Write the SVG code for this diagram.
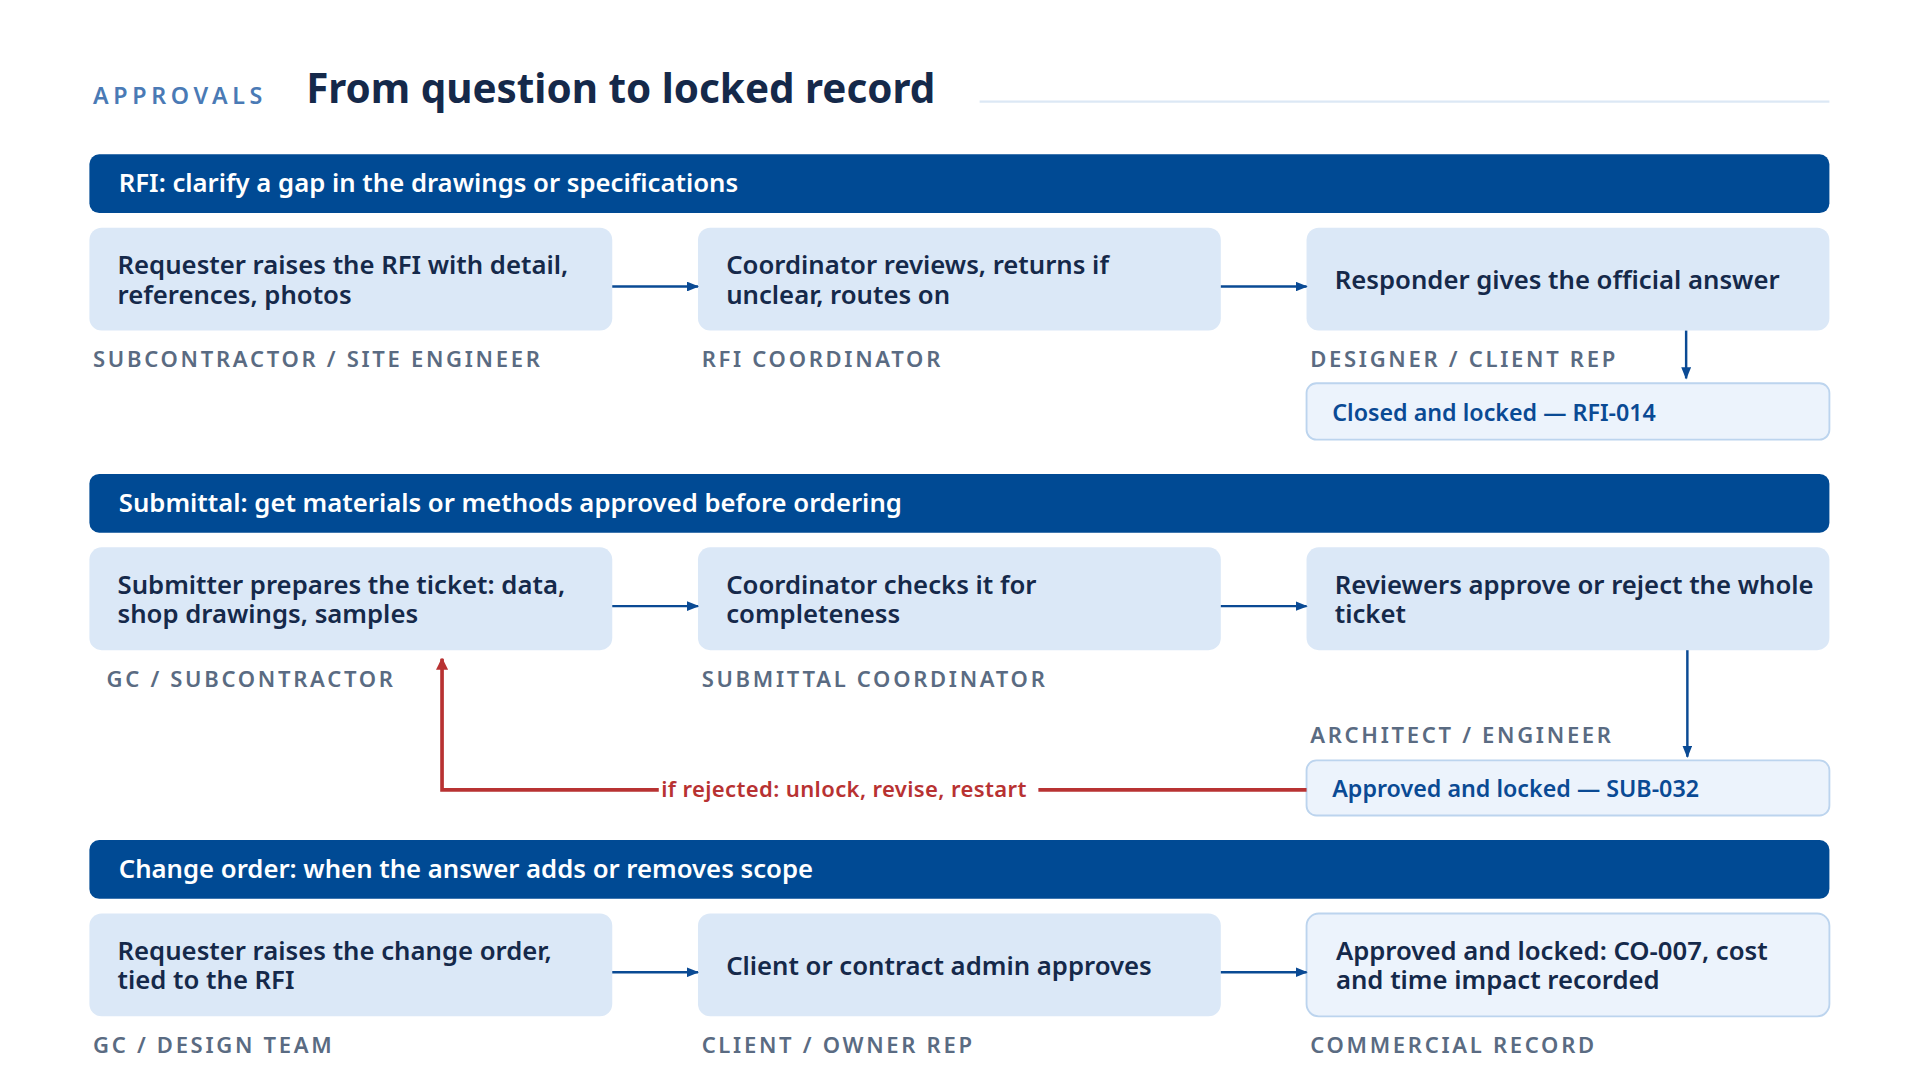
<svg xmlns="http://www.w3.org/2000/svg" width="1920" height="1080" viewBox="0 0 1920 1080">
<style>
text{font-family:"Noto Sans","Open Sans",sans-serif}
.band{fill:#004a94}
.bt{fill:#fff;font-size:21px;font-weight:600}
.box{fill:#dbe8f7}
.lock{fill:#ecf3fc;stroke:#bcd4ee;stroke-width:1.5}
.t{fill:#15294a;font-size:21px;font-weight:600}
.lt{fill:#0a4a94;font-size:19px;font-weight:600}
.role{fill:#5a6b82;font-size:18px;font-weight:600;letter-spacing:2.2px}
.c{stroke:#0a4a94;stroke-width:2;fill:none}
.r{stroke:#b83232;stroke-width:3;fill:none}
</style>
<defs>
<marker id="a" markerWidth="10" markerHeight="8" refX="9" refY="4" orient="auto" markerUnits="userSpaceOnUse"><path d="M0,0L10,4L0,8Z" fill="#0a4a94"/></marker>
<marker id="ar" markerWidth="10" markerHeight="10" refX="9" refY="5" orient="auto" markerUnits="userSpaceOnUse"><path d="M0,0L10,5L0,10Z" fill="#b83232"/></marker>
</defs>
<rect width="1920" height="1080" fill="#fff"/>
<g transform="scale(1.2245)">
<g id="header">
<text x="76" y="85" fill="#4a7ab5" font-size="19" font-weight="600" letter-spacing="3.8">APPROVALS</text>
<text x="250" y="84" fill="#15294a" font-size="33" font-weight="700">From question to locked record</text>
<line x1="800" y1="83" x2="1494" y2="83" stroke="#dce8f5" stroke-width="2"/>
</g>
<g id="band1"><rect class="band" x="73" y="126" width="1421" height="48" rx="8"/><text class="bt" x="97" y="157">RFI: clarify a gap in the drawings or specifications</text></g>
<g id="n1"><rect class="box" x="73" y="186" width="427" height="84" rx="10"/><text class="t" x="96" y="224">Requester raises the RFI with detail,</text><text class="t" x="96" y="248">references, photos</text><text class="role" x="76" y="300">SUBCONTRACTOR / SITE ENGINEER</text></g>
<g id="n2"><rect class="box" x="570" y="186" width="427" height="84" rx="10"/><text class="t" x="593" y="224">Coordinator reviews, returns if</text><text class="t" x="593" y="248">unclear, routes on</text><text class="role" x="573" y="300">RFI COORDINATOR</text></g>
<g id="n3"><rect class="box" x="1067" y="186" width="427" height="84" rx="10"/><text class="t" x="1090" y="236">Responder gives the official answer</text><text class="role" x="1070" y="300">DESIGNER / CLIENT REP</text></g>
<g id="n4"><rect class="lock" x="1067" y="313" width="427" height="46" rx="8"/><text class="lt" x="1088" y="344">Closed and locked — RFI-014</text></g>

<g id="band2"><rect class="band" x="73" y="387" width="1421" height="48" rx="8"/><text class="bt" x="97" y="418">Submittal: get materials or methods approved before ordering</text></g>
<g id="n5"><rect class="box" x="73" y="447" width="427" height="84" rx="10"/><text class="t" x="96" y="485">Submitter prepares the ticket: data,</text><text class="t" x="96" y="509">shop drawings, samples</text><text class="role" x="87" y="561">GC / SUBCONTRACTOR</text></g>
<g id="n6"><rect class="box" x="570" y="447" width="427" height="84" rx="10"/><text class="t" x="593" y="485">Coordinator checks it for</text><text class="t" x="593" y="509">completeness</text><text class="role" x="573" y="561">SUBMITTAL COORDINATOR</text></g>
<g id="n7"><rect class="box" x="1067" y="447" width="427" height="84" rx="10"/><text class="t" x="1090" y="485">Reviewers approve or reject the whole</text><text class="t" x="1090" y="509">ticket</text></g>
<g id="n8"><text class="role" x="1070" y="607">ARCHITECT / ENGINEER</text><rect class="lock" x="1067" y="621" width="427" height="45" rx="8"/><text class="lt" x="1088" y="651">Approved and locked — SUB-032</text></g>

<g id="band3"><rect class="band" x="73" y="686" width="1421" height="48" rx="8"/><text class="bt" x="97" y="717">Change order: when the answer adds or removes scope</text></g>
<g id="n9"><rect class="box" x="73" y="746" width="427" height="84" rx="10"/><text class="t" x="96" y="784">Requester raises the change order,</text><text class="t" x="96" y="808">tied to the RFI</text><text class="role" x="76" y="860">GC / DESIGN TEAM</text></g>
<g id="n10"><rect class="box" x="570" y="746" width="427" height="84" rx="10"/><text class="t" x="593" y="796">Client or contract admin approves</text><text class="role" x="573" y="860">CLIENT / OWNER REP</text></g>
<g id="n11"><rect class="lock" x="1067" y="746" width="427" height="84" rx="10"/><text class="t" x="1091" y="784">Approved and locked: CO-007, cost</text><text class="t" x="1091" y="808">and time impact recorded</text><text class="role" x="1070" y="860">COMMERCIAL RECORD</text></g>

<g id="connectors">
<line class="c" x1="500" y1="234" x2="570" y2="234" marker-end="url(#a)"/>
<line class="c" x1="997" y1="234" x2="1067" y2="234" marker-end="url(#a)"/>
<line class="c" x1="1377" y1="270" x2="1377" y2="309" marker-end="url(#a)"/>
<line class="c" x1="500" y1="495" x2="570" y2="495" marker-end="url(#a)"/>
<line class="c" x1="997" y1="495" x2="1067" y2="495" marker-end="url(#a)"/>
<line class="c" x1="1378" y1="531" x2="1378" y2="618" marker-end="url(#a)"/>
<line class="c" x1="500" y1="794" x2="570" y2="794" marker-end="url(#a)"/>
<line class="c" x1="997" y1="794" x2="1067" y2="794" marker-end="url(#a)"/>
<polyline class="r" points="1067,645 848,645"/>
<polyline class="r" points="538,645 361,645 361,538" marker-end="url(#ar)"/>
<text x="540" y="651" fill="#b83232" font-size="18" font-weight="600" letter-spacing="0.3">if rejected: unlock, revise, restart</text>
</g>
</g>
</svg>
